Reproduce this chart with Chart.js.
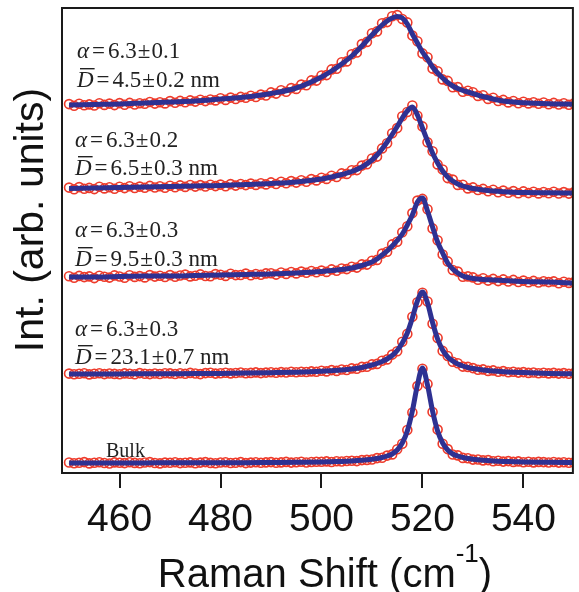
<!DOCTYPE html>
<html>
<head>
<meta charset="utf-8">
<script src="https://cdn.jsdelivr.net/npm/chart.js@4.4.1/dist/chart.umd.min.js"></script>
<style>
  html, body { margin: 0; padding: 0; background: #fff; }
</style>
</head>
<body>
<canvas id="chart" width="579" height="592"></canvas>
<script>
// Raman shift (cm-1) of the measured points
const shift = [
  450,451,452,453,454,455,456,457,458,459,460,461,462,463,464,465,466,467,468,469,
  470,471,472,473,474,475,476,477,478,479,480,481,482,483,484,485,486,487,488,489,
  490,491,492,493,494,495,496,497,498,499,500,501,502,503,504,505,506,507,508,509,
  510,511,512,513,514,515,516,517,518,519,520,521,522,523,524,525,526,527,528,529,
  530,531,532,533,534,535,536,537,538,539,540,541,542,543,544,545,546,547,548,549,550
];
// Raman shift of the fitted curves
const fitShift = [
  450,455,460,465,470,475,480,485,490,495,500,502,504,506,508,
  510,511,512,513,514,515,516,517,518,519,520,521,522,523,524,525,526,527,528,529,530,
  532,534,536,538,540,545,550
];
const xTicks = [460, 480, 500, 520, 540];

// measured intensity, stacked (arb. units)
const raw45 = [
  368.9,367.2,369.3,367.7,368.6,367.5,369.8,368.1,369.4,367.9,
  369.9,368.3,370.1,368.5,369.7,369.2,371.0,369.4,370.8,369.6,
  371.9,370.2,372.1,370.8,372.6,371.4,373.2,371.9,373.5,372.6,
  374.8,373.1,375.4,374.0,376.1,375.2,377.3,376.0,378.4,377.5,
  380.6,379.4,382.7,381.3,384.9,384.1,388.4,387.8,392.6,392.4,
  397.5,397.9,403.6,404.2,410.7,411.6,418.8,420.5,428.9,431.1,
  439.8,441.6,449.7,450.9,456.8,457.9,454.0,450.6,437.4,431.8,
  419.6,415.8,404.4,401.7,393.6,392.1,385.7,385.9,381.3,382.2,
  380.7,377.1,377.8,374.1,375.2,372.0,373.1,370.6,372.0,369.8,
  371.3,369.6,370.8,369.2,370.5,368.7,370.1,368.5,369.8,368.3,369.4
];
const raw65 = [
  285.4,283.7,285.9,284.2,285.1,283.9,286.3,284.6,285.8,284.3,
  286.2,284.9,286.7,285.0,286.4,285.2,287.1,285.5,286.8,285.3,
  287.3,285.8,287.6,286.1,288.0,286.4,287.9,286.5,288.3,286.9,
  288.4,286.8,288.9,287.4,289.0,287.9,289.4,288.1,289.7,288.6,
  290.6,289.0,291.2,289.7,291.9,290.4,292.7,291.3,293.9,292.6,
  295.2,294.1,297.3,296.0,299.6,299.1,302.8,302.9,307.4,308.7,
  314.5,316.4,324.6,329.8,339.7,344.9,356.8,361.0,367.5,357.2,
  346.6,330.7,321.8,308.6,303.5,294.9,293.4,288.1,288.2,284.6,
  285.6,283.0,284.1,281.7,283.2,280.8,282.4,280.3,281.9,279.8,
  281.6,279.9,281.3,279.6,281.0,279.7,281.2,279.5,280.9,279.4,280.7
];
const raw95 = [
  196.8,195.2,197.1,195.9,196.6,194.9,197.3,196.2,195.4,197.6,
  196.5,195.3,197.8,196.1,196.9,195.6,197.9,196.4,197.2,196.0,
  197.9,196.3,197.5,198.4,196.6,197.2,198.6,197.0,196.8,198.9,
  198.3,197.1,199.2,197.9,198.0,199.4,197.8,199.0,198.2,199.6,
  199.8,198.4,200.5,199.1,201.0,199.6,201.4,200.2,202.0,200.7,
  202.4,201.1,203.6,202.2,204.5,203.9,206.3,205.4,208.6,208.4,
  212.3,213.1,219.4,221.2,228.6,231.3,240.8,246.7,259.9,272.4,
  274.1,263.8,244.6,232.7,218.5,211.6,203.0,201.4,196.2,196.6,
  195.6,193.2,194.7,192.4,194.1,191.9,193.6,191.5,193.1,191.0,
  192.4,190.8,192.1,190.5,191.8,190.9,191.6,189.8,191.2,190.1,190.7
];
const raw231 = [
  99.4,98.7,99.2,99.8,98.6,99.3,99.7,98.9,99.5,99.1,
  98.8,99.6,99.2,98.7,99.9,99.3,98.9,99.5,99.0,99.7,
  99.6,99.0,99.8,99.3,100.1,99.5,98.9,99.9,100.2,99.4,
  99.8,100.3,99.6,100.0,100.5,99.7,100.1,100.6,99.9,100.4,
  100.8,100.2,100.9,100.5,101.2,100.7,101.3,101.0,101.6,101.2,
  102.2,101.6,102.9,102.1,103.5,103.0,104.6,104.2,106.1,106.3,
  108.6,109.1,112.3,113.6,118.4,121.8,131.2,139.1,156.3,170.8,
  180.2,171.5,149.2,135.1,122.1,117.0,111.3,109.8,106.4,106.1,
  104.9,103.2,103.6,102.1,102.6,101.2,101.9,100.7,101.3,100.4,
  100.9,100.1,100.5,99.8,100.3,99.6,100.1,99.4,99.9,99.3,99.7
];
const rawBulk = [
  10.5,9.8,10.3,10.9,9.6,10.2,10.8,10.0,9.5,10.6,
  10.3,9.9,10.7,10.1,9.7,10.5,10.9,10.0,9.6,10.4,
  10.2,10.8,9.9,10.3,10.6,9.8,10.4,10.9,10.1,9.7,
  10.5,10.8,10.0,10.3,10.9,9.9,10.4,10.7,10.2,10.6,
  10.9,10.3,10.6,11.1,10.4,10.8,11.2,10.5,11.0,11.3,
  11.2,11.6,11.0,11.8,11.5,12.0,12.3,11.9,12.9,13.1,
  13.5,14.9,15.2,17.4,18.6,23.8,29.3,43.0,60.5,86.9,
  104.2,89.1,61.0,43.4,29.2,23.9,18.5,17.6,15.1,14.8,
  13.4,13.5,12.6,12.9,11.8,12.2,11.4,11.9,11.1,11.6,
  10.8,11.3,10.6,11.1,10.9,10.5,11.0,10.4,10.8,10.2,10.6
];

// fitted curves (same offsets)
const fit45 = [
  368,368.5,369,370,371,372,374,376,379.5,385,396,402,409,417,427,
  438,443,448,452,455,456.5,455,449,439,430,421,414,406,400,395,390.5,387,384.5,382.5,381,379.5,
  376.5,374,372,371,370.3,369.3,368.8
];
const fit65 = [
  284.5,285,285.5,286,286.5,287,287.5,288.5,289.5,291,294,296,298.5,301.5,306,
  313,318,324,331,338.5,346.5,355,362,366,358,345,332,320,310,302,296,292,289,287,285.5,284.5,
  283,282,281.3,280.8,280.5,280.2,280
];
const fit95 = [
  196,196,196.5,197,197,197.5,198,198.5,199,200,201.5,202.5,203.5,205,207.5,
  211,214,218,222,227,232.5,239,248,258,271,275,262,246,231,220,210,204,200,197,195.5,194.5,
  193.5,193,192.5,192,191.5,191,190
];
const fit231 = [
  99,99,99.1,99.2,99.3,99.4,99.6,99.9,100.3,100.8,101.7,102.3,103,104,105.5,
  108,109.5,111.5,114,117.5,122.5,130,140,155,172,181,170,150.5,134,123,116,112,109,107,105.5,104.5,
  103,102,101.3,100.8,100.4,99.6,99.2
];
const fitBulk = [
  10.1,10.1,10.1,10.1,10.2,10.2,10.3,10.3,10.5,10.7,11.0,11.3,11.6,12.1,12.8,
  13.8,14.5,15.5,17,19,23,30,42,62,88,105,88,62,42,30,23,19,17,15.5,14.5,13.8,
  12.8,12.1,11.6,11.3,11.0,10.7,10.5
];

const alphas = ["6.3\u00b10.1", "6.3\u00b10.2", "6.3\u00b10.3", "6.3\u00b10.3"];
const sizes = ["4.5\u00b10.2 nm", "6.5\u00b10.3 nm", "9.5\u00b10.3 nm", "23.1\u00b10.7 nm"];

const RED = "#ee3b2b";
const BLUE = "#2e3192";
const SANS = '"Liberation Sans", Arial, sans-serif';
const SERIF = '"Liberation Serif", "Times New Roman", serif';

function pts(xs, ys) {
  return xs.map((x, i) => ({ x: x, y: ys[i] }));
}

const raws = [raw45, raw65, raw95, raw231, rawBulk];
const fits = [fit45, fit65, fit95, fit231, fitBulk];
const datasets = [];
fits.forEach((f) => {
  datasets.push({
    data: pts(fitShift, f),
    borderColor: BLUE,
    borderWidth: 5,
    pointRadius: 0,
    cubicInterpolationMode: "monotone",
    order: 0,
  });
});
raws.forEach((r) => {
  datasets.push({
    data: pts(shift, r),
    showLine: false,
    pointStyle: "circle",
    pointRadius: 4.5,
    pointBorderWidth: 1.6,
    pointBorderColor: RED,
    pointBackgroundColor: "rgba(0,0,0,0)",
    order: 1,
  });
});

// draws "α=..." / "D̄=..." with small gaps round the signs
function noteLine(c, x, y, sym, text) {
  c.font = "italic 23px " + SERIF;
  c.fillText(sym, x, y);
  let w = c.measureText(sym).width;
  if (sym === "D") c.fillRect(x + 3, y - 19, w - 2, 1.4);
  c.font = "23px " + SERIF;
  const parts = text.split("\u00b1");
  let cx = x + w + 3;
  c.fillText("=", cx, y);
  cx += c.measureText("=").width + 3;
  c.fillText(parts[0], cx, y);
  cx += c.measureText(parts[0]).width + 1;
  c.fillText("\u00b1", cx, y);
  cx += c.measureText("\u00b1").width + 1;
  c.fillText(parts[1], cx, y);
}

// frame, axis titles and the fit notes
const decor = {
  id: "decor",
  afterDraw(chart) {
    const c = chart.ctx;
    const a = chart.chartArea;
    c.save();
    c.strokeStyle = "#1a1a1a";
    c.lineWidth = 2;
    c.strokeRect(a.left, a.top, a.right - a.left, a.bottom - a.top);

    c.fillStyle = "#222";
    c.textBaseline = "alphabetic";
    const spots = [[77, 58, 87], [75, 147, 175], [75, 237, 266], [75, 336, 364]];
    spots.forEach((s, i) => {
      noteLine(c, s[0], s[1], "\u03b1", alphas[i]);
      noteLine(c, s[0], s[2], "D", sizes[i]);
    });
    c.font = "20px " + SERIF;
    c.fillText("Bulk", 106, 457);

    // x title with superscript
    c.fillStyle = "#111";
    c.font = "40px " + SANS;
    const t1 = "Raman Shift (cm";
    const w1 = c.measureText(t1).width;
    c.font = "26px " + SANS;
    const w2 = c.measureText("-1").width;
    c.font = "40px " + SANS;
    const w3 = c.measureText(")").width;
    let x0 = 325 - (w1 + w2 + w3) / 2;
    c.fillText(t1, x0, 587);
    c.font = "26px " + SANS;
    c.fillText("-1", x0 + w1, 562);
    c.font = "40px " + SANS;
    c.fillText(")", x0 + w1 + w2, 587);

    // y title
    c.translate(43, 220);
    c.rotate(-Math.PI / 2);
    c.font = "41px " + SANS;
    c.textAlign = "center";
    c.fillText("Int. (arb. units)", 0, 0);
    c.restore();
  },
};

new Chart(document.getElementById("chart"), {
  type: "line",
  data: { datasets: datasets },
  plugins: [decor],
  options: {
    responsive: false,
    animation: false,
    layout: { padding: { top: 8, left: 62, right: 2, bottom: 0 } },
    plugins: { legend: { display: false }, tooltip: { enabled: false } },
    scales: {
      x: {
        type: "linear",
        min: 448.6,
        max: 549.8,
        afterBuildTicks: (axis) => {
          axis.ticks = xTicks.map((v) => ({ value: v }));
        },
        afterFit: (scale) => {
          scale.height = 119;
        },
        grid: {
          drawOnChartArea: false,
          drawTicks: true,
          tickLength: 15,
          color: "#1a1a1a",
          lineWidth: 2,
        },
        border: { display: false },
        ticks: {
          color: "#111",
          padding: 9,
          maxRotation: 0,
          font: { family: SANS, size: 39 },
        },
      },
      y: {
        display: false,
        min: 0,
        max: 465,
      },
    },
  },
});
</script>
</body>
</html>
